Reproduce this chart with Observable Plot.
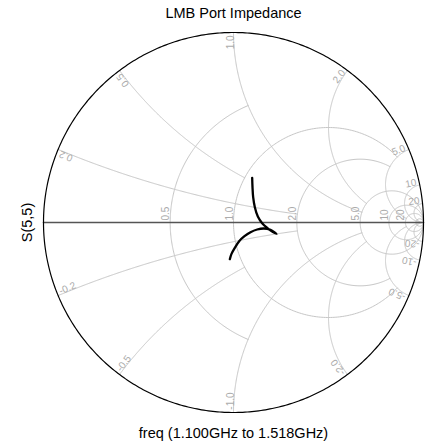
<!DOCTYPE html>
<html>
<head>
<meta charset="utf-8">
<script src="https://cdn.jsdelivr.net/npm/d3@7"></script>
<script src="https://cdn.jsdelivr.net/npm/@observablehq/plot@0.6"></script>
<style>
  html, body { margin: 0; padding: 0; background: #fff; }
  #chart svg { display: block; }
</style>
</head>
<body>
<div id="chart"></div>
<script>
// ---- texts ----
const titleText = "LMB Port Impedance";
const xLabelText = "freq (1.100GHz to 1.518GHz)";
const yLabelText = "S(5,5)";

// ---- Smith chart grid definition ----
// constant-resistance circles and how far (|x|) each one is drawn
const resistanceValues = [0.5, 1, 2, 5, 10, 20, 50];
const resistanceReach  = [1, 5, 5, Infinity, Infinity, Infinity, Infinity];
const resistanceLabels = ["0.5", "1.0", "2.0", "5.0", "10", "20", ""];

// constant-reactance arcs and how far (r) each one is drawn
const reactanceValues = [0.2, 0.5, 1, 2, 5, 10, 20];
const reactanceReach  = [2, 1, 5, 5, 20, Infinity, Infinity];
const reactancePosLabels = ["0.2", "0.5", "1.0", "2.0", "5.0", "10", "20"];
const reactanceNegLabels = ["-0.2", "-0.5", "-1.0", "-2.0", "-5.0", "-10", "-20"];

// ---- S(5,5) trace, reflection coefficient (real, imaginary), 1.100 -> 1.518 GHz ----
const traceRe = [0.0983, 0.1000, 0.1035, 0.1123, 0.1281, 0.1509, 0.1772, 0.2035, 0.2263,
                 0.1947, 0.1596, 0.1246, 0.0895, 0.0579, 0.0298, 0.0070, -0.0105, -0.0193];
const traceIm = [0.2351, 0.1860, 0.1333, 0.0807, 0.0316, -0.0035, -0.0281, -0.0474, -0.0596,
                 -0.0386, -0.0316, -0.0368, -0.0509, -0.0719, -0.0982, -0.1333, -0.1649, -0.1930];

// ---- helpers ----
function gamma(r, x) {           // Γ = (z-1)/(z+1), z = r + jx
  if (!isFinite(r) || !isFinite(x)) return [1, 0];
  const dr = r + 1, den = dr * dr + x * x;
  return [((r - 1) * dr + x * x) / den, (2 * x) / den];
}
const TAU = Math.PI * 2;
const N = 260;

const gridPts = [];
resistanceValues.forEach((r, i) => {
  const c = r / (r + 1), rad = 1 / (r + 1);
  const X = resistanceReach[i];
  let a0 = 0;
  if (isFinite(X)) { const g = gamma(r, X); a0 = Math.atan2(g[1], g[0] - c); }
  const a1 = TAU - a0;
  for (let k = 0; k <= N; k++) {
    const a = a0 + (a1 - a0) * k / N;
    gridPts.push({re: c + rad * Math.cos(a), im: rad * Math.sin(a), id: "r" + i});
  }
});
reactanceValues.forEach((x, i) => {
  const cy = 1 / x, rad = 1 / x;
  const g0 = gamma(0, x);
  let a0 = Math.atan2(g0[1] - cy, g0[0] - 1); if (a0 < 0) a0 += TAU;
  let a1 = 1.5 * Math.PI;
  const R = reactanceReach[i];
  if (isFinite(R)) { const g1 = gamma(R, x); a1 = Math.atan2(g1[1] - cy, g1[0] - 1); if (a1 < 0) a1 += TAU; }
  for (const s of [1, -1]) {
    for (let k = 0; k <= N; k++) {
      const a = a0 + (a1 - a0) * k / N;
      gridPts.push({re: 1 + rad * Math.cos(a), im: s * (cy + rad * Math.sin(a)), id: "x" + i + (s > 0 ? "p" : "n")});
    }
  }
});

// outer (r = 0) circle and real axis (x = 0)
const outerPts = d3.range(N * 2 + 1).map(k => {
  const a = TAU * k / (N * 2);
  return {re: Math.cos(a), im: Math.sin(a)};
});
const axisPts = [gamma(0, 0), gamma(Infinity, 0)].map(g => ({re: g[0], im: g[1]}));

// labels
const axisLabelData = resistanceValues
  .map((r, i) => ({re: gamma(r, 0)[0], im: 0, text: resistanceLabels[i]}))
  .filter(d => d.text);
const inset = 0.985;
const posLabelData = reactanceValues.map((x, i) => {
  const g = gamma(0, x), th = Math.atan2(g[1], g[0]);
  return {re: inset * Math.cos(th), im: inset * Math.sin(th), rot: -th * 180 / Math.PI, text: reactancePosLabels[i]};
});
const negLabelData = reactanceValues.map((x, i) => {
  const g = gamma(0, -x), th = Math.atan2(g[1], g[0]);
  return {re: inset * Math.cos(th), im: inset * Math.sin(th), rot: -th * 180 / Math.PI - 180, text: reactanceNegLabels[i]};
});

const trace = traceRe.map((re, i) => ({re, im: traceIm[i]}));

const gridColor = "#c6c6c6";
const labelColor = "#ababab";
const font = "'Liberation Sans', Arial, Helvetica, sans-serif";

const chart = Plot.plot({
  width: 425,
  height: 443,
  marginLeft: 43,
  marginRight: 2,
  marginTop: 32,
  marginBottom: 31,
  x: {domain: [-1, 1], axis: null},
  y: {domain: [-1, 1], axis: null},
  style: {fontFamily: font, background: "#fff", overflow: "visible"},
  marks: [
    Plot.line(gridPts, {x: "re", y: "im", z: "id", stroke: gridColor, strokeWidth: 1}),
    Plot.line(axisPts, {x: "re", y: "im", stroke: "#555", strokeWidth: 1.6}),
    Plot.line(outerPts, {x: "re", y: "im", stroke: "#000", strokeWidth: 1.2}),
    Plot.text(axisLabelData, {x: "re", y: "im", text: "text", rotate: -90, textAnchor: "start",
      lineAnchor: "bottom", dx: -1, dy: -2, fill: labelColor, fontSize: 10}),
    Plot.text(posLabelData, {x: "re", y: "im", text: "text", rotate: "rot", textAnchor: "end",
      lineAnchor: "bottom", fill: labelColor, fontSize: 10}),
    Plot.text(negLabelData, {x: "re", y: "im", text: "text", rotate: "rot", textAnchor: "start",
      lineAnchor: "bottom", fill: labelColor, fontSize: 10}),
    Plot.line(trace, {x: "re", y: "im", stroke: "#000", strokeWidth: 2.3, curve: "catmull-rom"}),
    Plot.text([titleText], {text: d => d, frameAnchor: "top", dy: -15, lineAnchor: "bottom",
      fontSize: 14.5, fill: "#000"}),
    Plot.text([xLabelText], {text: d => d, frameAnchor: "bottom", dy: 25, lineAnchor: "bottom",
      fontSize: 14.5, fill: "#000"}),
    Plot.text([yLabelText], {text: d => d, frameAnchor: "left", dx: -12, rotate: -90,
      textAnchor: "middle", lineAnchor: "bottom", fontSize: 14.5, fill: "#000"})
  ]
});
document.getElementById("chart").append(chart);
</script>
</body>
</html>
